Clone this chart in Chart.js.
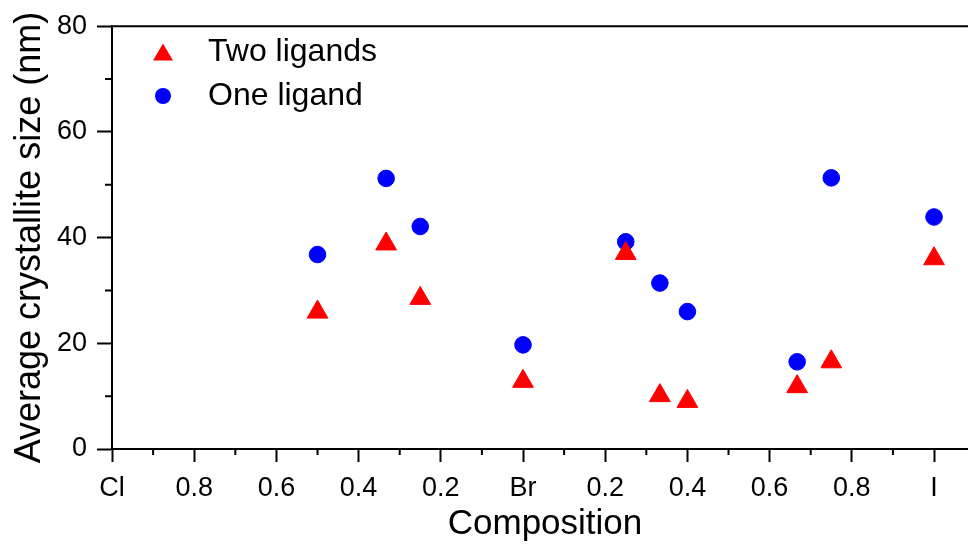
<!DOCTYPE html>
<html>
<head>
<meta charset="utf-8">
<script src="https://cdn.jsdelivr.net/npm/chart.js@4.4.1/dist/chart.umd.min.js"></script>
<style>
  html, body { margin: 0; padding: 0; background: #fff; overflow: hidden; }
  /* the figure is cropped on the right, like the original */
  #wrap { width: 991px; height: 546px; }
</style>
</head>
<body>
<div id="wrap"><canvas id="sizeChart"></canvas></div>
<script>
// composition position: Cl = 0, Br = 1, I = 2
const composition = [0.5, 0.667, 0.75, 1, 1.25, 1.333, 1.4, 1.667, 1.75, 2];
const twoLigands = [25.9, 38.8, 28.5, 12.8, 37.0, 10.1, 9.0, 11.8, 16.5, 36.0];
const oneLigand = [36.8, 51.2, 42.1, 19.7, 39.2, 31.4, 26.0, 16.5, 51.3, 43.9];

const xTickValues = [0, 0.2, 0.4, 0.6, 0.8, 1, 1.2, 1.4, 1.6, 1.8, 2];
const xTickLabels = ['Cl', '0.8', '0.6', '0.4', '0.2', 'Br', '0.2', '0.4', '0.6', '0.8', 'I'];
const xMinorTicks = [0.1, 0.3, 0.5, 0.7, 0.9, 1.1, 1.3, 1.5, 1.7, 1.9];
const yMinorTicks = [10, 30, 50, 70];

const FONT = "'Liberation Sans', Arial, sans-serif";

// little canvases for the legend markers (sized like the original)
function legendMarker(kind, color) {
  const c = document.createElement('canvas');
  c.width = 40; c.height = 30;
  const g = c.getContext('2d');
  const cx = 25, cy = 15;
  g.fillStyle = color;
  g.beginPath();
  if (kind === 'triangle') {
    g.moveTo(cx, cy - 8.5);
    g.lineTo(cx + 10, cy + 8.5);
    g.lineTo(cx - 10, cy + 8.5);
    g.closePath();
  } else {
    g.arc(cx, cy, 8, 0, Math.PI * 2);
  }
  g.fill();
  return c;
}

const axisExtras = {
  id: 'axisExtras',
  beforeDatasetsDraw(chart) {
    const { ctx, chartArea, scales: { x, y } } = chart;
    ctx.save();
    ctx.strokeStyle = '#000';
    ctx.lineWidth = 2;
    ctx.beginPath();
    // top frame line
    ctx.moveTo(chartArea.left - 1, chartArea.top);
    ctx.lineTo(chartArea.right, chartArea.top);
    // minor ticks
    xMinorTicks.forEach(v => {
      const px = x.getPixelForValue(v);
      ctx.moveTo(px, chartArea.bottom);
      ctx.lineTo(px, chartArea.bottom + 6);
    });
    yMinorTicks.forEach(v => {
      const py = y.getPixelForValue(v);
      ctx.moveTo(chartArea.left, py);
      ctx.lineTo(chartArea.left - 7, py);
    });
    ctx.stroke();
    ctx.restore();
  }
};

const ctx = document.getElementById('sizeChart').getContext('2d');
const sizeChart = new Chart(ctx, {
  type: 'scatter',
  data: {
    datasets: [
      {
        label: 'Two ligands',
        data: composition.map((c, i) => ({ x: c, y: twoLigands[i] })),
        pointStyle: 'triangle',
        pointRadius: 12,
        backgroundColor: '#ff0000',
        borderColor: '#ff0000',
        borderWidth: 1
      },
      {
        label: 'One ligand',
        data: composition.map((c, i) => ({ x: c, y: oneLigand[i] })),
        pointStyle: 'circle',
        pointRadius: 8.3,
        backgroundColor: '#0000ff',
        borderColor: '#0000ff',
        borderWidth: 1
      }
    ]
  },
  options: {
    responsive: true,
    maintainAspectRatio: false,
    animation: false,
    layout: { padding: { top: 24, right: 0, left: 0, bottom: 0 } },
    plugins: {
      tooltip: { enabled: false },
      legend: {
        display: true,
        position: 'chartArea',
        align: 'start',
        // empty title only pushes the entries down below the top frame
        title: { display: true, text: '', font: { size: 10, lineHeight: 1 }, padding: { top: 14, bottom: 0 } },
        labels: {
          usePointStyle: true,
          pointStyleWidth: 68,
          padding: 12,
          color: '#000',
          font: { family: FONT, size: 32 },
          generateLabels: (chart) => chart.data.datasets.map((ds, i) => ({
            text: ds.label,
            datasetIndex: i,
            pointStyle: legendMarker(ds.pointStyle, ds.backgroundColor),
            fillStyle: ds.backgroundColor,
            strokeStyle: ds.borderColor,
            lineWidth: 0,
            fontColor: '#000',
            hidden: false
          }))
        }
      }
    },
    scales: {
      x: {
        type: 'linear',
        min: 0,
        max: 2.107,
        afterBuildTicks: (scale) => { scale.ticks = xTickValues.map(v => ({ value: v })); },
        afterFit: (scale) => { scale.height = 97; },
        border: { display: true, color: '#000', width: 2 },
        grid: { display: true, drawOnChartArea: false, drawTicks: true, tickLength: 13, tickWidth: 2, tickColor: '#000' },
        ticks: {
          padding: 10,
          color: '#000',
          maxRotation: 0,
          font: { family: FONT, size: 27 },
          callback: (v) => xTickLabels[Math.round(v * 5)]
        },
        title: {
          display: true,
          text: 'Composition',
          color: '#000',
          font: { family: FONT, size: 35 },
          padding: { top: 0, bottom: 1 }
        }
      },
      y: {
        type: 'linear',
        min: 0,
        max: 80,
        afterFit: (scale) => { scale.width = 112; },
        border: { display: true, color: '#000', width: 2 },
        grid: { display: true, drawOnChartArea: false, drawTicks: true, tickLength: 15, tickWidth: 2, tickColor: '#000' },
        ticks: {
          stepSize: 20,
          padding: 10,
          color: '#000',
          font: { family: FONT, size: 27 }
        },
        title: {
          display: true,
          text: 'Average crystallite size (nm)',
          color: '#000',
          font: { family: FONT, size: 36 },
          padding: { top: 8, bottom: 0 }
        }
      }
    }
  },
  plugins: [axisExtras]
});
</script>
</body>
</html>
